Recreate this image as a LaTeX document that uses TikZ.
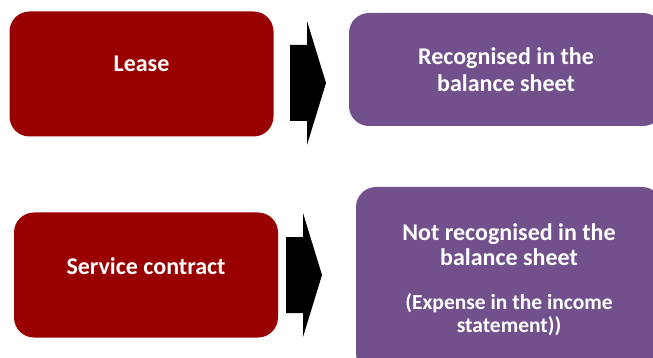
\documentclass[tikz,border=0pt]{standalone}
\usepackage{fontspec}
\setmainfont{Carlito}
\usepackage{xcolor}
\usetikzlibrary{positioning}
\definecolor{leasered}{RGB}{153,0,0}
\definecolor{sheetpurple}{RGB}{113,80,140}
\tikzstyle{redbox} = [fill=leasered,
	rounded corners=20pt,
	minimum width=264pt,
	minimum height=125pt]
\tikzstyle{purplebox} = [fill=sheetpurple,
	rounded corners=20pt,
	text=white,
	align=center,
	font=\bfseries\fontsize{24}{27}\selectfont]
\tikzstyle{boxtext} = [text=white, font=\bfseries\fontsize{24}{27}\selectfont]
\newcommand{\blockarrow}[1]{\fill[black] (#1) ++(0,-38) -- ++(17,0) -- ++(0,-24)
	-- ++(19,62) -- ++(-19,62) -- ++(0,-24) -- ++(-17,0) -- cycle}

\begin{document}
\begin{tikzpicture}[x=1pt, y=-1pt]
	\useasboundingbox (0,0) rectangle (653,358);
	\clip (0,0) rectangle (653,358);
	
	%left column
	\node (lease) [redbox] at (141.5,74) {};
	\node (leasetext) [boxtext] at ([yshift=10pt]lease.center) {Lease};
	
	\node (service) [redbox] at (146,275) {};
	\node (servicetext) [boxtext] at ([yshift=9pt]service.center) {Service contract};
	
	%arrows
	\coordinate (arr1) at (290,83);
	\blockarrow{arr1};
	\coordinate (arr2) at (286,275);
	\blockarrow{arr2};
	
	%right column
	\node (recog) [purplebox, minimum width=314pt, minimum height=113pt] at (506,69.5)
		{Recognised in the\\balance sheet};
	\node (notrecog) [purplebox, minimum width=306pt, minimum height=186pt] at (509,280)
		{Not recognised in the\\[-2pt]balance sheet\\[17pt]
		{\fontsize{21.5}{22}\selectfont (Expense in the income}\\[-4pt]
		{\fontsize{21.5}{22}\selectfont statement))}};
\end{tikzpicture}
\end{document}
